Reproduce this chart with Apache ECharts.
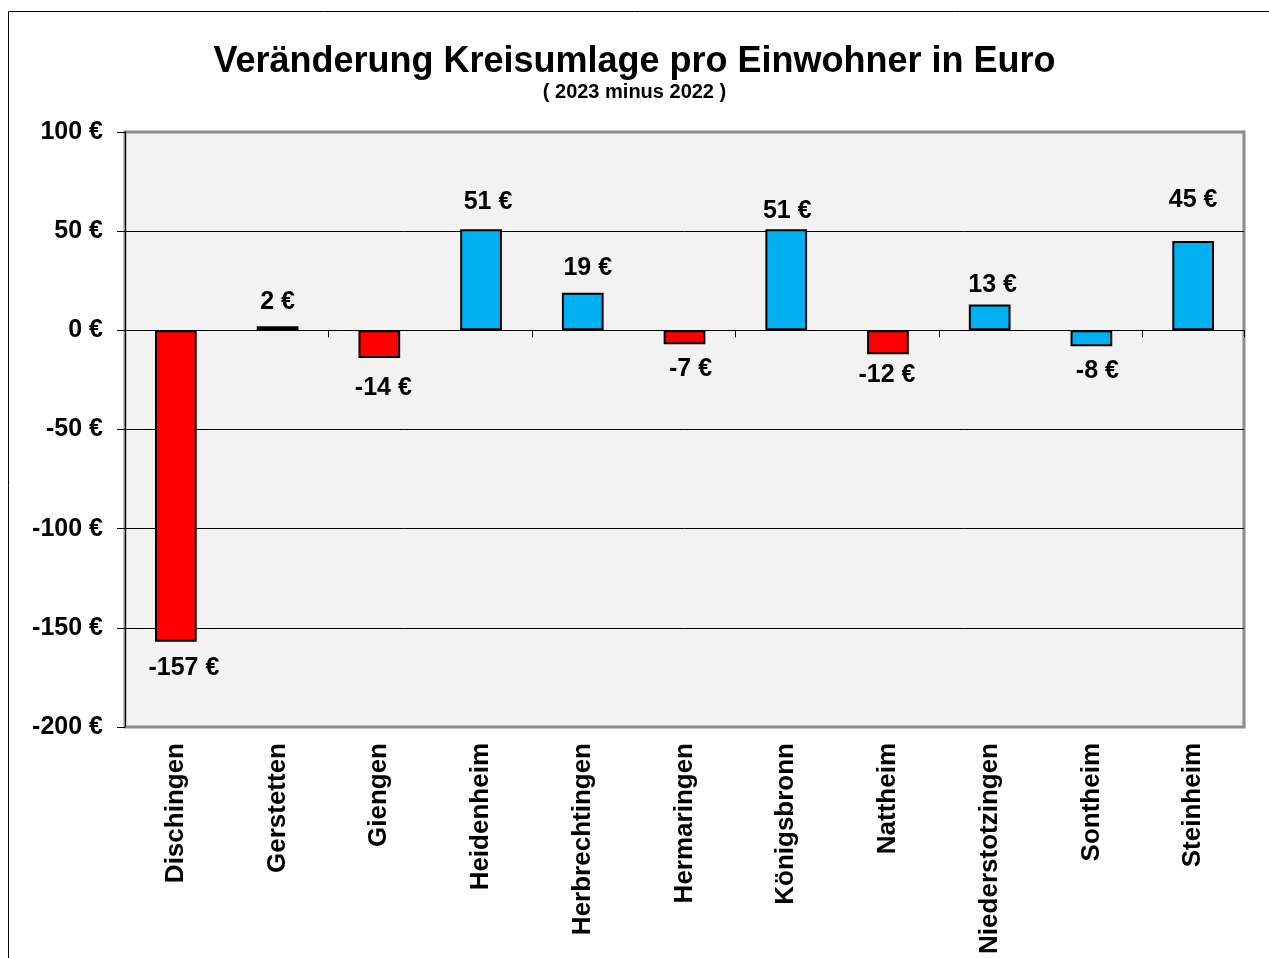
<!DOCTYPE html>
<html>
<head>
<meta charset="utf-8">
<script src="https://cdn.jsdelivr.net/npm/echarts@6/dist/echarts.min.js"></script>
<style>
  html, body { margin: 0; padding: 0; background: #fff; }
  #chart { width: 1269px; height: 958px; }
</style>
</head>
<body>
<div id="chart"></div>
<script>
var gemeinden = ['Dischingen', 'Gerstetten', 'Giengen', 'Heidenheim', 'Herbrechtingen', 'Hermaringen',
                 'Königsbronn', 'Nattheim', 'Niederstotzingen', 'Sontheim', 'Steinheim'];
var veraenderung = [-157, 2, -14, 51, 19, -7, 51, -12, 13, -8, 45];
var balkenFarbe = ['#ff0000', '#00b0f0', '#ff0000', '#00b0f0', '#00b0f0', '#ff0000',
                   '#00b0f0', '#ff0000', '#00b0f0', '#00b0f0', '#00b0f0'];

var schrift = 'Arial, "Liberation Sans", sans-serif';

// Beschriftungen sind im Original von Hand verschoben
var labelVersatz = [[8, 2], [0, 0], [4, 6], [7, -3], [5, 0], [6, 0],
                    [1, 6], [-1, -4], [3, 5], [6, 0], [0, -16]];

var dom = document.getElementById('chart');
var myChart = echarts.init(dom);

var barData = veraenderung.map(function (v, i) {
    return {
        value: v,
        itemStyle: { color: balkenFarbe[i] },
        label: {
            position: v < 0 ? 'bottom' : 'top',
            offset: labelVersatz[i]
        }
    };
});

var option = {
    backgroundColor: '#ffffff',
    animation: false,
    title: {
        text: 'Veränderung Kreisumlage pro Einwohner in Euro',
        subtext: '( 2023 minus 2022 )',
        left: 'center',
        top: 39,
        itemGap: 2,
        textStyle: { fontFamily: schrift, fontSize: 36, fontWeight: 'bold', color: '#000' },
        subtextStyle: { fontFamily: schrift, fontSize: 20, fontWeight: 'bold', color: '#000' }
    },
    graphic: [{
        type: 'rect',
        shape: { x: 8.5, y: 11.5, width: 1300, height: 1000 },
        style: { fill: 'none', stroke: '#000', lineWidth: 1 },
        silent: true
    }],
    grid: {
        left: 125,
        right: 25,
        top: 132,
        bottom: 231,
        show: true,
        backgroundColor: '#f2f2f2',
        borderColor: '#8c8c8c',
        borderWidth: 3
    },
    xAxis: [
        {
            type: 'category',
            data: gemeinden,
            position: 'bottom',
            axisLine: { show: false, onZero: false },
            axisTick: { show: false },
            axisLabel: {
                rotate: 90,
                interval: 0,
                margin: 16,
                fontFamily: schrift,
                fontSize: 26,
                fontWeight: 'bold',
                color: '#000'
            }
        },
        {
            type: 'category',
            data: gemeinden,
            position: 'bottom',
            axisLine: { show: true, onZero: true, lineStyle: { color: '#000', width: 1 } },
            axisTick: { show: true, length: 7, lineStyle: { color: '#000' } },
            axisLabel: { show: false },
            splitLine: { show: false }
        }
    ],
    yAxis: {
        type: 'value',
        min: -200,
        max: 100,
        interval: 50,
        axisLine: { show: true, lineStyle: { color: '#000', width: 1 } },
        axisTick: { show: true, length: 8, lineStyle: { color: '#000' } },
        axisLabel: {
            formatter: '{value} €',
            margin: 22,
            fontFamily: schrift,
            fontSize: 25,
            fontWeight: 'bold',
            color: '#000'
        },
        splitLine: {
            show: true,
            showMinLine: false,
            showMaxLine: false,
            lineStyle: { color: '#000', width: 1 }
        }
    },
    series: [
        {
            type: 'bar',
            xAxisIndex: 0,
            barWidth: '41%',
            data: barData,
            itemStyle: { borderColor: '#000', borderWidth: 2 },
            label: {
                show: true,
                distance: 12,
                formatter: '{c} €',
                fontFamily: schrift,
                fontSize: 25,
                fontWeight: 'bold',
                color: '#000'
            }
        }
    ]
};

if (option && typeof option === 'object') {
    myChart.setOption(option, true);
}
</script>
</body>
</html>
